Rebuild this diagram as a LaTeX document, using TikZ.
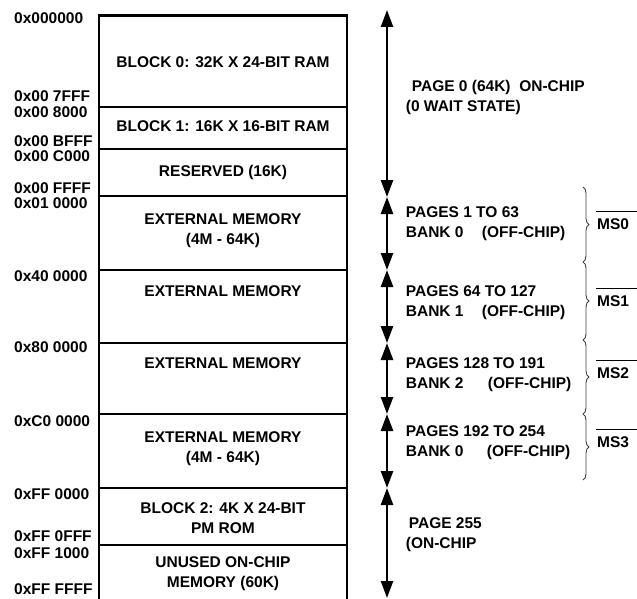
\documentclass[tikz,border=0pt]{standalone}
\usepackage{fontspec}
\setmainfont{Liberation Sans}
\usetikzlibrary{positioning,calc,arrows.meta,decorations.pathreplacing}
\newcommand{\memfont}{\bfseries\fontsize{15.5}{20}\selectfont}
\tikzset{memline/.style={line width=2.6pt,line join=miter}}
\tikzset{addr/.style={anchor=west,inner sep=0pt,font=\memfont}}
\tikzset{blk/.style={align=center,inner sep=0pt,font=\memfont}}
\tikzset{pg/.style={anchor=west,align=left,inner sep=0pt,font=\memfont}}
\tikzset{pagespan/.style={line width=2.5pt,{Triangle[length=17pt,width=12pt]}-{Triangle[length=17pt,width=12pt]}}}
\tikzset{bank/.style={decorate,decoration={brace,amplitude=6pt},black!75,line width=0.9pt}}
\tikzset{msl/.style={anchor=west,inner sep=0pt,font=\memfont}}
\tikzset{msbar/.style={line width=1pt}}

\begin{document}
\begin{tikzpicture}[x=1pt,y=-1pt]
	\useasboundingbox (0,0) rectangle (637,599);

	% memory map
	\draw[memline] (99,602) |- (347,15.5) -- (347,602);
	\foreach \y in {107,149,196,270,343,414,488,545}
		\draw[memline] (99,\y) -- (347,\y);

	\node[blk] (blk0) at (223,62) {BLOCK 0: 32K X 24-BIT RAM};
	\node[blk] (blk1) at (223,126) {BLOCK 1: 16K X 16-BIT RAM};
	\node[blk] (rsv) at (223,172) {RESERVED (16K)};
	\node[blk] (ext0) at (223,231) {EXTERNAL MEMORY\\(4M - 64K)};
	\node[blk] (ext1) at (223,291) {EXTERNAL MEMORY};
	\node[blk] (ext2) at (223,363) {EXTERNAL MEMORY};
	\node[blk] (ext3) at (223,449) {EXTERNAL MEMORY\\(4M - 64K)};
	\node[blk] (blk2) at (223,518) {BLOCK 2: 4K X 24-BIT\\PM ROM};
	\node[blk] (unused) at (223,574) {UNUSED ON-CHIP\\MEMORY (60K)};

	% addresses
	\foreach \y/\t [count=\i] in {18/0x000000, 96/0x00 7FFF, 112.5/0x00 8000, 141/0x00 BFFF,
			156/0x00 C000, 188/0x00 FFFF, 203.5/0x01 0000, 276/0x40 0000, 347/0x80 0000,
			421/0xC0 0000, 494/0xFF 0000, 536/0xFF 0FFF, 553/0xFF 1000, 589/0xFF FFFF}
		\node[addr] (a\i) at (14,\y) {\t};

	% pages
	\coordinate (t0) at (387,10);
	\coordinate (t1) at (387,197);
	\coordinate (t2) at (387,270);
	\coordinate (t3) at (387,343);
	\coordinate (t4) at (387,414);
	\coordinate (t5) at (387,488);
	\coordinate (t6) at (387,598);
	\draw[pagespan] (t0) -- (t1);
	\draw[pagespan] (t1) -- (t2);
	\draw[pagespan] (t2) -- (t3);
	\draw[pagespan] (t3) -- (t4);
	\draw[pagespan] (t4) -- (t5);
	\draw[pagespan] (t5) -- (t6);

	\node[pg] (pg0) at (405.7,97) {\hspace*{6pt}PAGE 0 (64K)\ \ ON-CHIP\\(0 WAIT STATE)};
	\node[pg] (pg1) at (405.7,224) {PAGES 1 TO 63\\\makebox[76pt][l]{BANK 0}(OFF-CHIP)};
	\node[pg] (pg2) at (405.7,303) {PAGES 64 TO 127\\\makebox[76pt][l]{BANK 1}(OFF-CHIP)};
	\node[pg] (pg3) at (405.7,374.5) {PAGES 128 TO 191\\\makebox[82pt][l]{BANK 2}(OFF-CHIP)};
	\node[pg] (pg4) at (405.7,443) {PAGES 192 TO 254\\\makebox[81pt][l]{BANK 0}(OFF-CHIP)};
	\node[pg] (pg5) at (405.7,534.5) {\hspace*{3pt}PAGE 255\\(ON-CHIP};

	% memory selects
	\foreach \a/\b in {187/262,262/340,340/414,414/480}
		\draw[bank] (583,\a) -- (583,\b);
	\foreach \i/\y in {0/224,1/301,2/373,3/442} {
		\node[msl] (ms\i) at (597,\y) {MS\i};
		\draw[msbar] (ms\i.north west) ++(-1,-6.5) -- ++(45,0);
	}
\end{tikzpicture}
\end{document}
